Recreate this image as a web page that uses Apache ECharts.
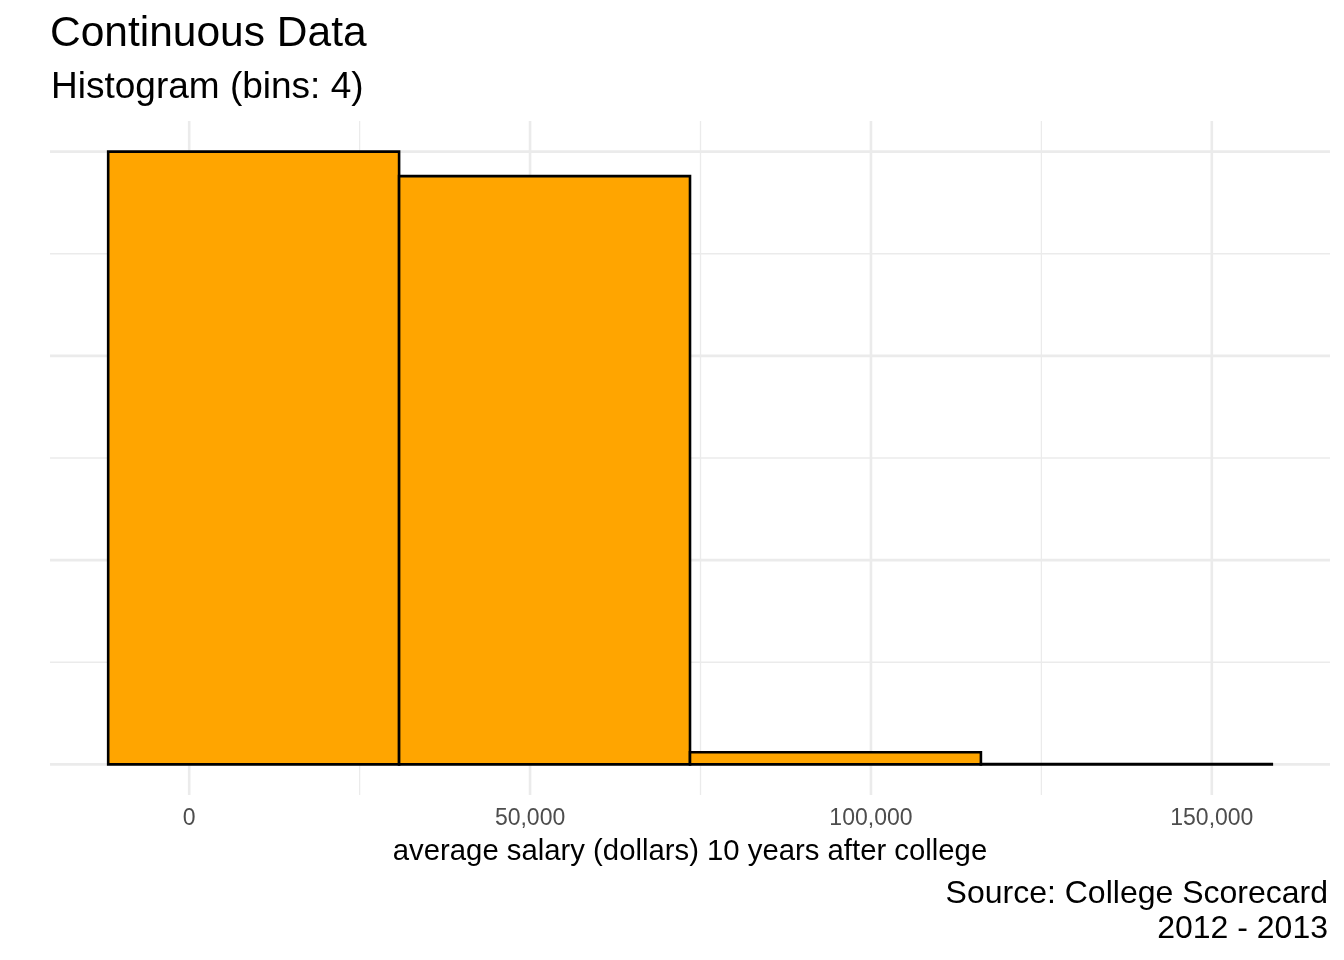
<!DOCTYPE html>
<html>
<head>
<meta charset="utf-8">
<title>Continuous Data</title>
<script src="https://cdn.jsdelivr.net/npm/echarts@6/dist/echarts.min.js"></script>
<style>
  html, body { margin: 0; padding: 0; background: #fff; }
  #chart { width: 1344px; height: 960px; }
</style>
</head>
<body>
<div id="chart"></div>
<script>
// histogram bins (dollars)
var binStart = [-11880, 30790, 73460, 116130];
var binEnd = [30790, 73460, 116130, 158800];
var binCount = [3000, 2880, 59, 2];

// axis ticks and grid lines
var xTicks = [0, 50000, 100000, 150000];
var xGridMajor = [0, 50000, 100000, 150000];
var xGridMinor = [25000, 75000, 125000];
var yGridMajor = [0, 1000, 2000, 3000];
var yGridMinor = [500, 1500, 2500];

var FONT = 'Liberation Sans, Arial, sans-serif';

var myChart = echarts.init(document.getElementById('chart'));

function gridData(major, minor) {
    var out = [];
    major.forEach(function (v) { out.push([v, 1]); });
    minor.forEach(function (v) { out.push([v, 0]); });
    return out;
}

// horizontal grid line across the whole plot panel
function renderHGrid(params, api) {
    var cs = params.coordSys;
    var y = api.coord([0, api.value(0)])[1];
    return {
        type: 'line',
        shape: { x1: cs.x, y1: y, x2: cs.x + cs.width, y2: y },
        style: { stroke: '#EBEBEB', lineWidth: api.value(1) ? 2.6 : 1.3 }
    };
}

// vertical grid line across the whole plot panel
function renderVGrid(params, api) {
    var cs = params.coordSys;
    var x = api.coord([api.value(0), 0])[0];
    return {
        type: 'line',
        shape: { x1: x, y1: cs.y, x2: x, y2: cs.y + cs.height },
        style: { stroke: '#EBEBEB', lineWidth: api.value(1) ? 2.6 : 1.3 }
    };
}

function renderBar(params, api) {
    var p0 = api.coord([api.value(0), api.value(2)]);
    var p1 = api.coord([api.value(1), 0]);
    return {
        type: 'rect',
        shape: { x: p0[0], y: p0[1], width: p1[0] - p0[0], height: p1[1] - p0[1] },
        style: { fill: '#FFA500', stroke: '#000000', lineWidth: 2.6 }
    };
}

var barData = binStart.map(function (s, i) {
    return [s, binEnd[i], binCount[i]];
});

// ggplot style 5% expansion on both axes
var xSpan = binEnd[binEnd.length - 1] - binStart[0];
var xMin = binStart[0] - 0.05 * xSpan;
var xMax = binEnd[binEnd.length - 1] + 0.05 * xSpan;
var yTop = Math.max.apply(null, binCount);

option = {
    backgroundColor: '#ffffff',
    animation: false,
    title: [
        {
            text: 'Continuous Data',
            left: 50, top: 13, padding: 0,
            textStyle: { fontFamily: FONT, fontSize: 42.5, fontWeight: 'normal', color: '#000' }
        },
        {
            text: 'Histogram (bins: 4)',
            left: 51, top: 69, padding: 0,
            textStyle: { fontFamily: FONT, fontSize: 37, fontWeight: 'normal', color: '#000' }
        },
        {
            text: 'Source: College Scorecard',
            right: 16, top: 878, padding: 0,
            textStyle: { fontFamily: FONT, fontSize: 32, fontWeight: 'normal', color: '#000' }
        },
        {
            text: '2012 - 2013',
            right: 16, top: 913, padding: 0,
            textStyle: { fontFamily: FONT, fontSize: 32, fontWeight: 'normal', color: '#000' }
        }
    ],
    grid: { left: 50, right: 14, top: 121, bottom: 165, containLabel: false },
    xAxis: {
        type: 'value',
        min: xMin,
        max: xMax,
        name: 'average salary (dollars) 10 years after college',
        nameLocation: 'middle',
        nameGap: 42,
        nameTextStyle: { fontFamily: FONT, fontSize: 29.3, color: '#000' },
        axisLine: { show: false },
        axisTick: { show: false },
        splitLine: { show: false },
        axisLabel: {
            customValues: xTicks,
            margin: 12,
            fontFamily: FONT,
            fontSize: 23,
            color: '#4D4D4D',
            formatter: function (v) { return v.toLocaleString('en-US'); }
        }
    },
    yAxis: {
        type: 'value',
        min: -0.05 * yTop,
        max: 1.05 * yTop,
        axisLine: { show: false },
        axisTick: { show: false },
        axisLabel: { show: false },
        splitLine: { show: false }
    },
    series: [
        {
            type: 'custom',
            silent: true,
            z: 1,
            renderItem: renderHGrid,
            encode: { y: 0 },
            data: gridData(yGridMajor, yGridMinor)
        },
        {
            type: 'custom',
            silent: true,
            z: 1,
            renderItem: renderVGrid,
            encode: { x: 0 },
            data: gridData(xGridMajor, xGridMinor)
        },
        {
            name: 'count',
            type: 'custom',
            z: 2,
            renderItem: renderBar,
            encode: { x: [0, 1], y: 2 },
            data: barData
        }
    ]
};
myChart.setOption(option);
window.addEventListener('resize', function () {
    myChart.resize();
});
</script>
</body>
</html>
